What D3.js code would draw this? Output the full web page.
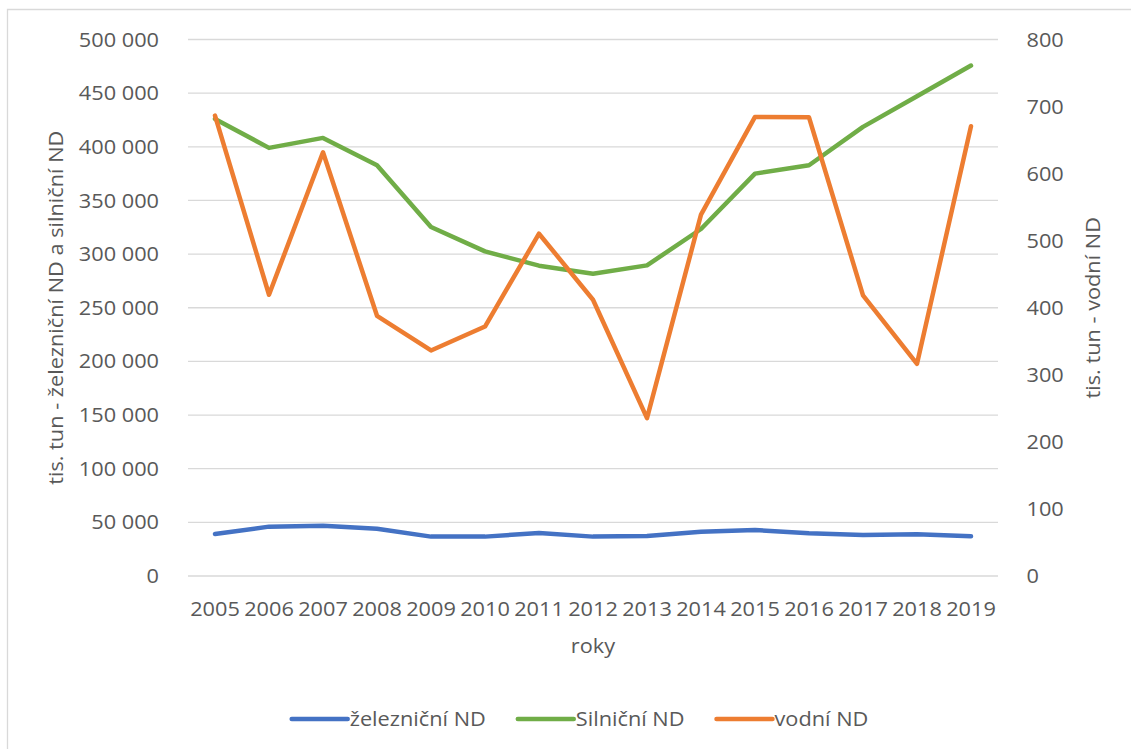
<!DOCTYPE html>
<html>
<head>
<meta charset="utf-8">
<script src="https://cdn.jsdelivr.net/npm/d3@7"></script>
<style>
  body { margin: 0; background: #fff; }
  text { font-family: "Open Sans", "Noto Sans", sans-serif; fill: #595959; }
</style>
</head>
<body>
<svg id="chart" width="1131" height="749"></svg>
<script>
// Přeprava zboží v ČR (tis. tun)
const years = ["2005","2006","2007","2008","2009","2010","2011","2012","2013","2014","2015","2016","2017","2018","2019"];
const rail  = [39200, 46000, 46900, 44100, 36700, 36700, 40100, 36700, 37300, 41300, 42900, 39800, 38200, 38900, 37000];
const road  = [426000, 399000, 408300, 382800, 325300, 302500, 289200, 281700, 289500, 323400, 375000, 382800, 418600, 447100, 475700];
const water = [686.6, 419.4, 631.8, 388, 336.3, 372, 510.4, 412, 235.4, 538.8, 684.6, 684, 418.4, 316.4, 670.6];

const leftTicks  = [0, 50000, 100000, 150000, 200000, 250000, 300000, 350000, 400000, 450000, 500000];
const rightTicks = [0, 100, 200, 300, 400, 500, 600, 700, 800];

const seriesNames  = ["železniční ND", "Silniční ND", "vodní ND"];
const seriesColors = ["#4472c4", "#70ad47", "#ed7d31"];

const leftTitle  = "tis. tun - železniční ND a silniční ND";
const rightTitle = "tis. tun - vodní ND";
const xTitle     = "roky";

const FONT = 20.5;
const STRETCH = 1.06;

const svg = d3.select("#chart");
const plot = { left: 188, right: 998, top: 39.5, bottom: 576 };

const cz = d3.formatLocale({ decimal: ",", thousands: " ", grouping: [3], currency: ["", ""] });
const fmt = cz.format(",d");

// chart area frame (top and left edges)
svg.append("path")
  .attr("d", `M7.5,749 V9.5 H1131`)
  .attr("fill", "none")
  .attr("stroke", "#d9d9d9")
  .attr("stroke-width", 1.3);

const x = d3.scaleBand().domain(years).range([plot.left, plot.right]).padding(0);
const cx = d => x(d) + x.bandwidth() / 2;
const yL = d3.scaleLinear().domain([0, 500000]).range([plot.bottom, plot.top]);
const yR = d3.scaleLinear().domain([0, 800]).range([plot.bottom, plot.top]);

// horizontal gridlines
svg.append("g").selectAll("line").data(leftTicks).join("line")
  .attr("x1", plot.left).attr("x2", plot.right)
  .attr("y1", d => yL(d)).attr("y2", d => yL(d))
  .attr("stroke", "#d9d9d9").attr("stroke-width", 1.3);

// axes
const gL = svg.append("g").attr("transform", `translate(${plot.left},0)`)
  .call(d3.axisLeft(yL).tickValues(leftTicks).tickFormat(fmt).tickSize(0).tickPadding(29));
const gR = svg.append("g").attr("transform", `translate(${plot.right},0)`)
  .call(d3.axisRight(yR).tickValues(rightTicks).tickFormat(d3.format("d")).tickSize(0).tickPadding(28.5));
const gB = svg.append("g").attr("transform", `translate(0,${plot.bottom})`)
  .call(d3.axisBottom(x).tickSize(0).tickPadding(25));
[gL, gR, gB].forEach(g => {
  g.select(".domain").remove();
  g.selectAll("text").style("font-size", FONT + "px").attr("fill", "#595959")
    .style("font-family", '"Open Sans", "Noto Sans", sans-serif');
});

// axis titles
svg.append("text")
  .attr("transform", `translate(56,${(plot.top + plot.bottom) / 2}) rotate(-90)`)
  .attr("text-anchor", "middle").attr("dy", "0.35em")
  .style("font-size", FONT + "px").text(leftTitle);
svg.append("text")
  .attr("transform", `translate(1093,${(plot.top + plot.bottom) / 2}) rotate(-90)`)
  .attr("text-anchor", "middle").attr("dy", "0.35em")
  .style("font-size", FONT + "px").text(rightTitle);
svg.append("text")
  .attr("x", (plot.left + plot.right) / 2).attr("y", 653)
  .attr("text-anchor", "middle")
  .style("font-size", FONT + "px").text(xTitle);

// series lines
const lineL = d3.line().x((d, i) => cx(years[i])).y(d => yL(d));
const lineR = d3.line().x((d, i) => cx(years[i])).y(d => yR(d));
const series = [
  { values: rail,  gen: lineL, color: seriesColors[0] },
  { values: road,  gen: lineL, color: seriesColors[1] },
  { values: water, gen: lineR, color: seriesColors[2] }
];
svg.append("g").selectAll("path").data(series).join("path")
  .attr("d", s => s.gen(s.values))
  .attr("fill", "none")
  .attr("stroke", s => s.color)
  .attr("stroke-width", 4.5)
  .attr("stroke-linejoin", "round")
  .attr("stroke-linecap", "round");

// legend
const legend = svg.append("g");
const sampleLen = 56, textGap = 2, itemGap = 32, legendY = 719;
const items = legend.selectAll("g").data(seriesNames).join("g");
items.append("line")
  .attr("x1", 0).attr("x2", sampleLen).attr("y1", 0).attr("y2", 0)
  .attr("stroke", (d, i) => seriesColors[i]).attr("stroke-width", 4.5)
  .attr("stroke-linecap", "round");
items.append("text")
  .attr("x", sampleLen + textGap).attr("dy", "0.35em")
  .style("font-size", FONT + "px").text(d => d);

// apply a slight horizontal stretch to all labels
svg.selectAll("text").each(function () {
  const w = this.getComputedTextLength();
  d3.select(this).attr("textLength", w * STRETCH).attr("lengthAdjust", "spacingAndGlyphs");
});

// lay legend items out side by side, centred
let offset = 0;
const widths = [];
items.each(function () {
  const w = sampleLen + textGap + d3.select(this).select("text").node().getComputedTextLength();
  widths.push(w);
});
const total = d3.sum(widths) + itemGap * (widths.length - 1);
let start = 580 - total / 2;
items.attr("transform", (d, i) => {
  const t = `translate(${start + offset},${legendY})`;
  offset += widths[i] + itemGap;
  return t;
});
</script>
</body>
</html>
